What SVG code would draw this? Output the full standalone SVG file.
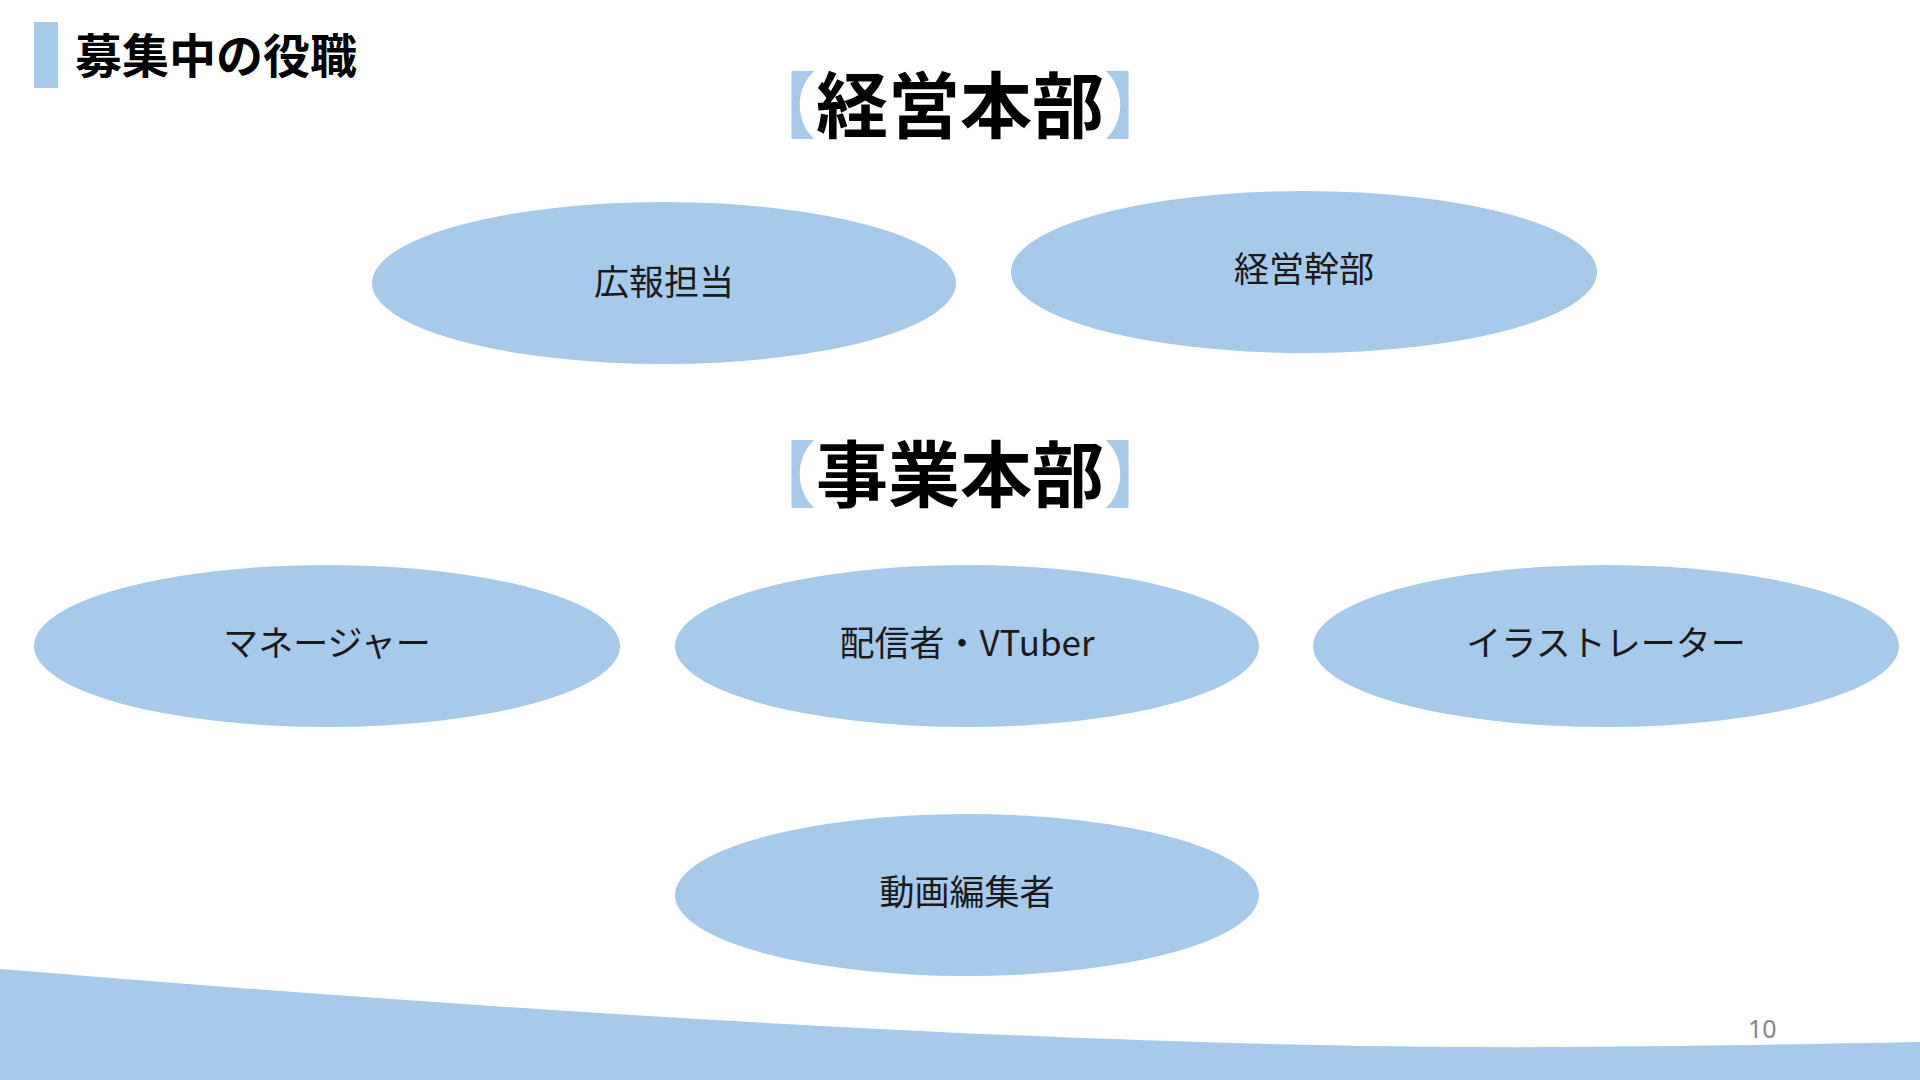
<svg xmlns="http://www.w3.org/2000/svg" width="1920" height="1080" viewBox="0 0 1920 1080">
<style>
.bg{fill:#ffffff}
.blue{fill:#A7C9EA}
.node ellipse{fill:#A7C9EA}
.lbl{font-family:"Noto Sans CJK JP","Noto Sans",sans-serif;font-size:35px;fill:#1a1a1a;text-anchor:middle}
.head{font-family:"Liberation Serif","Noto Sans CJK JP",serif;font-size:72px;font-weight:bold;fill:#000;text-anchor:middle}
.br{fill:#A7C9EA}
.title{font-family:"Noto Sans CJK JP",sans-serif;font-size:47px;font-weight:bold;fill:#000}
.pg{font-family:"Noto Sans","Liberation Sans",sans-serif;font-size:25px;fill:#888}
</style>
<rect class="bg" x="0" y="0" width="1920" height="1080"/>
<path class="blue" d="M0,969 C500,1010 1100,1050 1560,1047 C1700,1046 1820,1044 1920,1042 L1920,1080 L0,1080 Z"/>
<rect class="blue" x="34" y="22" width="24" height="66"/>
<text class="title" x="75" y="73">募集中の役職</text>
<text class="head" x="960" y="132"><tspan class="br">【</tspan>経営本部<tspan class="br">】</tspan></text>
<text class="head" x="960" y="501"><tspan class="br">【</tspan>事業本部<tspan class="br">】</tspan></text>
<g id="connectors"></g>
<g id="node-pr" class="node"><ellipse cx="664" cy="283" rx="292" ry="81"/><text class="lbl" x="664" y="295">広報担当</text></g>
<g id="node-exec" class="node"><ellipse cx="1304" cy="272" rx="293" ry="81"/><text class="lbl" x="1304" y="282">経営幹部</text></g>
<g id="node-manager" class="node"><ellipse cx="327" cy="646" rx="293" ry="81"/><text class="lbl" x="327" y="656">マネージャー</text></g>
<g id="node-vtuber" class="node"><ellipse cx="967" cy="646" rx="292" ry="81"/><text class="lbl" x="967" y="656">配信者・VTuber</text></g>
<g id="node-illust" class="node"><ellipse cx="1606" cy="646" rx="293" ry="81"/><text class="lbl" x="1606" y="656">イラストレーター</text></g>
<g id="node-editor" class="node"><ellipse cx="967" cy="895" rx="292" ry="81"/><text class="lbl" x="967" y="905">動画編集者</text></g>
<text class="pg" x="1748" y="1038">10</text>
</svg>
